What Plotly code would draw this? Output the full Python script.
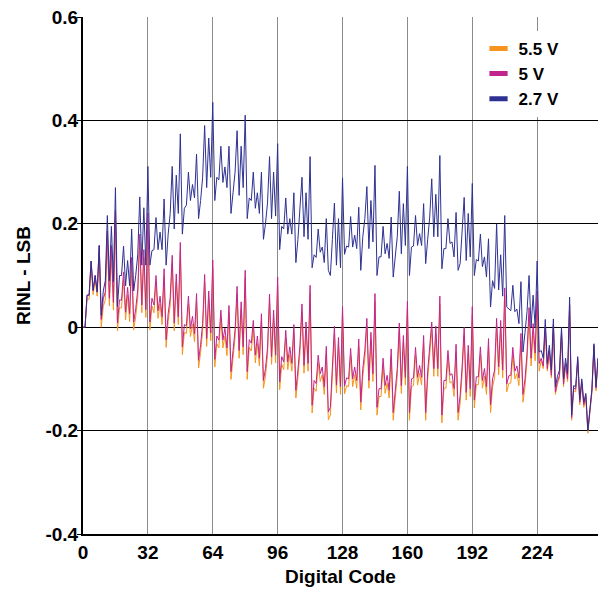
import plotly.graph_objects as go

# digital codes 0..255
codes = list(range(256))

# RINL (LSB), one value per code
rinl_2v7 = [
    0.000, 0.000, 0.062, 0.062, 0.128, 0.071, 0.100, 0.068,
    0.158, 0.023, 0.070, 0.090, 0.216, 0.090, 0.195, 0.088,
    0.270, 0.040, 0.100, 0.100, 0.157, 0.080, 0.129, 0.080,
    0.190, 0.070, 0.100, 0.140, 0.252, 0.120, 0.231, 0.120,
    0.311, 0.120, 0.148, 0.150, 0.212, 0.150, 0.184, 0.150,
    0.248, 0.120, 0.180, 0.220, 0.311, 0.190, 0.294, 0.220,
    0.374, 0.180, 0.230, 0.236, 0.300, 0.245, 0.276, 0.250,
    0.335, 0.210, 0.245, 0.290, 0.390, 0.270, 0.366, 0.290,
    0.435, 0.245, 0.290, 0.285, 0.350, 0.280, 0.310, 0.270,
    0.350, 0.220, 0.260, 0.300, 0.380, 0.255, 0.350, 0.270,
    0.410, 0.210, 0.250, 0.245, 0.300, 0.230, 0.260, 0.220,
    0.300, 0.170, 0.200, 0.240, 0.330, 0.210, 0.300, 0.215,
    0.355, 0.150, 0.195, 0.190, 0.250, 0.180, 0.210, 0.180,
    0.260, 0.125, 0.170, 0.230, 0.290, 0.175, 0.260, 0.170,
    0.330, 0.115, 0.140, 0.135, 0.190, 0.145, 0.155, 0.125,
    0.210, 0.110, 0.100, 0.170, 0.240, 0.120, 0.210, 0.115,
    0.289, 0.141, 0.157, 0.155, 0.214, 0.155, 0.178, 0.152,
    0.232, 0.110, 0.175, 0.210, 0.272, 0.152, 0.245, 0.165,
    0.313, 0.100, 0.136, 0.136, 0.195, 0.142, 0.162, 0.133,
    0.213, 0.097, 0.140, 0.175, 0.263, 0.142, 0.239, 0.158,
    0.311, 0.100, 0.155, 0.157, 0.216, 0.158, 0.181, 0.158,
    0.239, 0.123, 0.170, 0.213, 0.287, 0.175, 0.257, 0.175,
    0.332, 0.113, 0.152, 0.152, 0.210, 0.162, 0.165, 0.136,
    0.222, 0.110, 0.123, 0.180, 0.251, 0.129, 0.220, 0.136,
    0.278, 0.100, 0.131, 0.128, 0.180, 0.117, 0.136, 0.097,
    0.171, 0.039, 0.090, 0.075, 0.200, 0.072, 0.140, 0.060,
    0.216, 0.039, 0.036, 0.032, 0.081, 0.030, 0.035, 0.007,
    0.088, -0.048, -0.010, 0.030, 0.100, 0.000, 0.062, 0.000,
    0.128, -0.048, -0.045, -0.060, 0.015, -0.070, -0.035, -0.083,
    0.016, -0.115, -0.095, -0.083, 0.000, -0.100, -0.060, -0.090,
    0.058, -0.170, -0.113, -0.115, -0.057, -0.140, -0.100, -0.145,
    -0.128, -0.200, -0.160, -0.120, -0.032, -0.115, -0.060, -0.140,
]

rinl_5v = [
    0.000, 0.000, 0.062, 0.062, 0.128, 0.071, 0.100, 0.068,
    0.158, 0.015, 0.055, 0.068, 0.186, 0.056, 0.158, 0.048,
    0.226, 0.008, 0.053, 0.052, 0.107, 0.029, 0.077, 0.026,
    0.135, 0.010, 0.036, 0.072, 0.180, 0.043, 0.150, 0.034,
    0.221, 0.010, 0.056, 0.043, 0.100, 0.032, 0.060, 0.020,
    0.113, -0.024, 0.026, 0.057, 0.139, 0.008, 0.103, 0.020,
    0.164, -0.038, 0.005, 0.003, 0.060, -0.003, 0.021, -0.013,
    0.065, -0.064, -0.034, 0.007, 0.102, -0.022, 0.070, -0.011,
    0.130, -0.062, -0.017, -0.025, 0.033, -0.025, -0.002, -0.040,
    0.042, -0.086, -0.045, -0.005, 0.079, -0.045, 0.049, -0.038,
    0.110, -0.086, -0.024, -0.031, 0.013, -0.054, -0.017, -0.060,
    0.026, -0.103, -0.080, -0.040, 0.064, -0.057, 0.033, -0.054,
    0.097, -0.106, -0.057, -0.067, -0.006, -0.067, -0.038, -0.070,
    0.005, -0.122, -0.083, -0.035, 0.045, -0.074, 0.010, -0.070,
    0.081, -0.151, -0.103, -0.109, -0.054, -0.090, -0.077, -0.115,
    -0.037, -0.164, -0.155, -0.085, 0.002, -0.112, -0.020, -0.115,
    0.040, -0.114, -0.098, -0.100, -0.041, -0.100, -0.077, -0.103,
    -0.023, -0.145, -0.080, -0.045, 0.017, -0.103, -0.010, -0.090,
    0.065, -0.155, -0.119, -0.119, -0.060, -0.113, -0.093, -0.122,
    -0.042, -0.165, -0.115, -0.080, 0.008, -0.113, -0.016, -0.097,
    0.050, -0.165, -0.100, -0.098, -0.039, -0.097, -0.074, -0.097,
    -0.016, -0.165, -0.085, -0.042, 0.010, -0.080, 0.002, -0.080,
    0.060, -0.170, -0.103, -0.103, -0.045, -0.093, -0.090, -0.119,
    -0.033, -0.165, -0.132, -0.075, 0.000, -0.126, -0.035, -0.119,
    0.040, -0.141, -0.096, -0.096, -0.038, -0.103, -0.080, -0.115,
    -0.022, -0.150, -0.100, -0.083, 0.017, -0.077, 0.013, -0.083,
    0.076, -0.110, -0.094, -0.093, -0.039, -0.085, -0.075, -0.098,
    -0.012, -0.130, -0.100, -0.050, 0.038, -0.060, 0.007, -0.050,
    0.070, -0.070, -0.060, -0.075, 0.000, -0.080, -0.045, -0.093,
    0.006, -0.125, -0.105, -0.093, -0.010, -0.110, -0.070, -0.100,
    0.045, -0.175, -0.118, -0.120, -0.062, -0.145, -0.105, -0.150,
    -0.132, -0.200, -0.162, -0.122, -0.035, -0.118, -0.062, -0.142,
]

rinl_5v5 = [
    0.000, 0.000, 0.054, 0.054, 0.120, 0.063, 0.092, 0.060,
    0.150, 0.000, 0.040, 0.053, 0.171, 0.041, 0.143, 0.033,
    0.211, -0.007, 0.038, 0.037, 0.092, 0.014, 0.062, 0.011,
    0.120, -0.005, 0.021, 0.057, 0.165, 0.028, 0.135, 0.019,
    0.206, -0.005, 0.041, 0.028, 0.085, 0.017, 0.045, 0.005,
    0.098, -0.039, 0.011, 0.042, 0.124, -0.007, 0.088, 0.005,
    0.149, -0.053, -0.010, -0.012, 0.045, -0.018, 0.006, -0.028,
    0.050, -0.079, -0.049, -0.008, 0.087, -0.037, 0.055, -0.026,
    0.115, -0.077, -0.032, -0.040, 0.018, -0.040, -0.017, -0.055,
    0.027, -0.101, -0.060, -0.020, 0.064, -0.060, 0.034, -0.053,
    0.095, -0.101, -0.039, -0.046, -0.002, -0.069, -0.032, -0.075,
    0.011, -0.118, -0.095, -0.055, 0.049, -0.072, 0.018, -0.069,
    0.082, -0.121, -0.072, -0.082, -0.021, -0.082, -0.053, -0.085,
    -0.010, -0.137, -0.098, -0.050, 0.030, -0.089, -0.005, -0.085,
    0.066, -0.166, -0.118, -0.124, -0.069, -0.105, -0.092, -0.130,
    -0.052, -0.179, -0.170, -0.100, -0.013, -0.127, -0.035, -0.130,
    0.025, -0.129, -0.113, -0.115, -0.056, -0.115, -0.092, -0.118,
    -0.038, -0.160, -0.095, -0.060, 0.002, -0.118, -0.025, -0.105,
    0.050, -0.170, -0.134, -0.134, -0.075, -0.128, -0.108, -0.137,
    -0.057, -0.180, -0.130, -0.095, -0.007, -0.128, -0.031, -0.112,
    0.035, -0.180, -0.115, -0.113, -0.054, -0.112, -0.089, -0.112,
    -0.031, -0.180, -0.100, -0.057, -0.005, -0.095, -0.013, -0.095,
    0.045, -0.185, -0.118, -0.118, -0.060, -0.108, -0.105, -0.134,
    -0.048, -0.180, -0.147, -0.090, -0.015, -0.141, -0.050, -0.134,
    0.025, -0.156, -0.111, -0.111, -0.053, -0.118, -0.095, -0.130,
    -0.037, -0.165, -0.115, -0.098, 0.002, -0.092, -0.002, -0.098,
    0.061, -0.125, -0.109, -0.108, -0.054, -0.100, -0.090, -0.113,
    -0.027, -0.145, -0.115, -0.065, 0.023, -0.075, -0.008, -0.065,
    0.055, -0.085, -0.065, -0.080, -0.005, -0.085, -0.050, -0.098,
    0.001, -0.130, -0.110, -0.098, -0.015, -0.115, -0.075, -0.105,
    0.040, -0.180, -0.123, -0.125, -0.067, -0.150, -0.110, -0.155,
    -0.137, -0.205, -0.167, -0.127, -0.040, -0.123, -0.067, -0.147,
]

series = [
    ("5.5 V", rinl_5v5, "#F7941D"),
    ("5 V", rinl_5v, "#C2248E"),
    ("2.7 V", rinl_2v7, "#2E3192"),
]

x_ticks = [0, 32, 64, 96, 128, 160, 192, 224]
y_ticks = [-0.4, -0.2, 0, 0.2, 0.4, 0.6]
y_labels = ["-0.4", "-0.2", "0", "0.2", "0.4", "0.6"]

fig = go.Figure()
for name, vals, color in series:
    fig.add_trace(go.Scatter(x=codes, y=vals, mode="lines", name=name,
                             line=dict(color=color, width=1), showlegend=False))
# legend swatches (short thick bars like the original)
for name, vals, color in series:
    fig.add_trace(go.Scatter(x=[None], y=[None], mode="markers", name=name,
                             marker=dict(symbol="line-ew", size=13,
                                         line=dict(color=color, width=5))))

bold = dict(family="Liberation Sans, Arial, sans-serif", size=19, color="black", weight="bold")
legend_font = dict(bold, size=17)

fig.update_layout(
    width=598, height=590,
    margin=dict(l=83, r=0, t=17, b=56),
    plot_bgcolor="white", paper_bgcolor="white",
    font=bold,
    legend=dict(x=0.768, y=0.973, xanchor="left", yanchor="top",
                bgcolor="white", font=legend_font, itemwidth=30,
                tracegroupgap=0),
)
fig.update_xaxes(
    range=[0, 254], tickvals=x_ticks, ticks="", tickfont=bold,
    showgrid=True, gridcolor="#8c8c8c", gridwidth=1, automargin=False,
    showline=True, linecolor="black", linewidth=2, zeroline=False,
    title=dict(text="Digital Code", font=bold, standoff=8),
)
fig.update_yaxes(
    range=[-0.4, 0.6], tickvals=y_ticks, ticktext=y_labels,
    ticks="outside", ticklen=4, tickcolor="black", tickfont=bold,
    ticklabelstandoff=-5, automargin=False,
    showgrid=True, gridcolor="black", gridwidth=1,
    showline=True, linecolor="black", linewidth=2, zeroline=False,
    title=dict(text="RINL - LSB", font=bold, standoff=10),
)

# the page body has a default 8px margin; drop it so the chart sits at the window corner
fig.write_html("out.html", config={"displayModeBar": False},
               post_script="document.body.style.margin = '0';")
